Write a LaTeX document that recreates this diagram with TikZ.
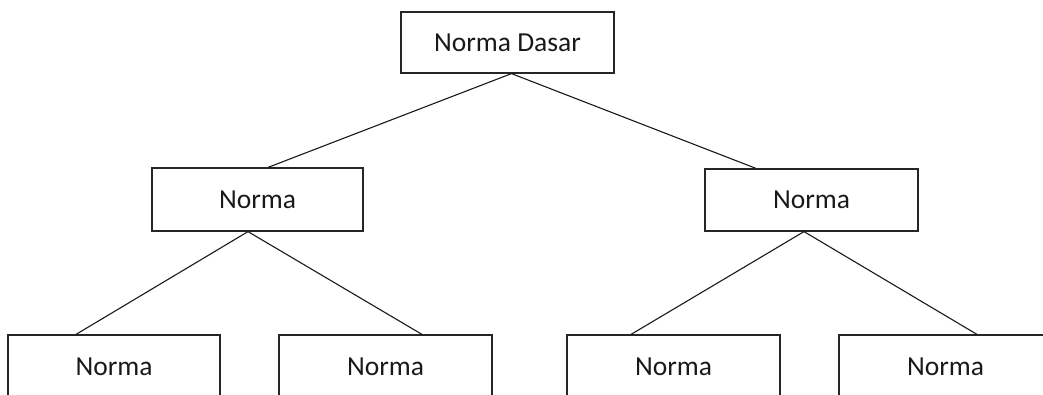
\documentclass[tikz,border=0pt]{standalone}
\usepackage{fontspec}
\setmainfont{Carlito}
\begin{document}
\begin{tikzpicture}[x=1pt,y=-1pt,
  box/.style={draw=black!85,line width=1.2pt,rectangle,inner sep=0pt,minimum width=213pt,minimum height=62pt,font=\fontsize{27.5}{30}\selectfont,text=black!90},
  link/.style={draw=black!90,line width=1.1pt}]
\useasboundingbox (0,0) rectangle (1043,394);
\clip (0,0) rectangle (1043,394);
\node[box,minimum height=61pt] (top) at (507.5,42.5) {Norma Dasar};
\node[box,minimum width=211pt,minimum height=63pt] (ml) at (257.5,199.5) {Norma};
\node[box] (mr) at (811.5,200) {Norma};
\node[box,minimum width=212pt,minimum height=63pt] (b1) at (114,366.5) {Norma};
\node[box,minimum height=63pt] (b2) at (385.5,366.5) {Norma};
\node[box,minimum height=63pt] (b3) at (673.5,366.5) {Norma};
\node[box,minimum height=63pt] (b4) at (945.5,366.5) {Norma};
\draw[link] ([xshift=4pt]top.south) -- ([xshift=10.5pt]ml.north);
\draw[link] ([xshift=4pt]top.south) -- ([xshift=-55.5pt]mr.north);
\draw[link] ([xshift=-9.5pt]ml.south) -- ([xshift=-38pt]b1.north);
\draw[link] ([xshift=-9.5pt]ml.south) -- ([xshift=36.5pt]b2.north);
\draw[link] ([xshift=-7.5pt]mr.south) -- ([xshift=-42.5pt]b3.north);
\draw[link] ([xshift=-7.5pt]mr.south) -- ([xshift=31.5pt]b4.north);
\end{tikzpicture}
\end{document}
